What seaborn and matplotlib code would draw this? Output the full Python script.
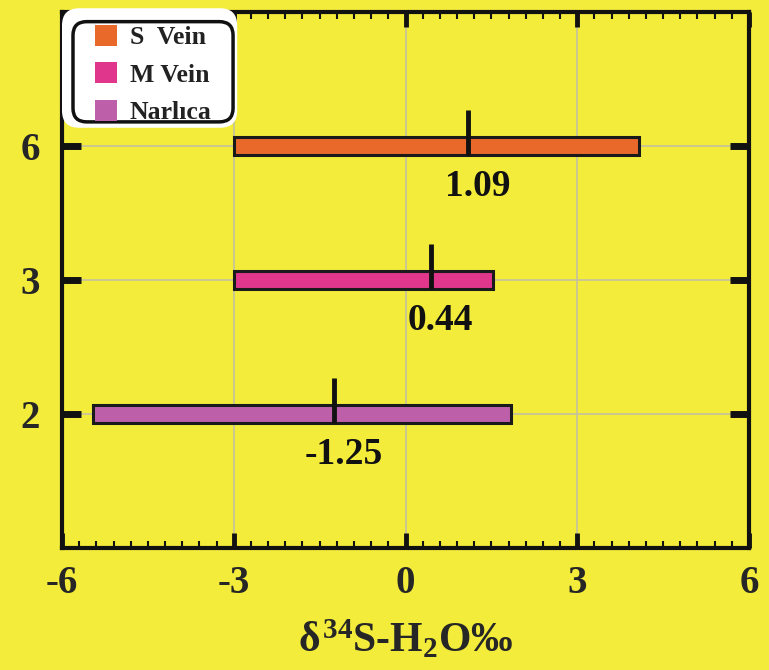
import matplotlib
matplotlib.use('Agg')
import matplotlib.pyplot as plt
import seaborn as sns
import numpy as np
import pandas as pd
from matplotlib.patches import Patch, FancyBboxPatch
from matplotlib.ticker import MultipleLocator

# ---- data ----
groups = ['Narlıca', 'M Vein', 'S Vein']
y_labels = ['2', '3', '6']
range_min = [-5.45, -3.0, -3.0]
range_max = [1.85, 1.52, 4.08]
means = [-1.25, 0.44, 1.09]
mean_labels = ['-1.25', '0.44', '1.09']
colors = ['#BE5FAA', '#E0378C', '#E8692A']
legend_labels = ['S  Vein', 'M Vein', 'Narlıca']
x_ticks = [-6, -3, 0, 3, 6]

df = pd.DataFrame({'group': groups, 'lo': range_min, 'hi': range_max,
                   'mean': means, 'label': mean_labels, 'color': colors})
df['pos'] = np.arange(len(df))

sns.set_theme(style='white')
plt.rcParams['font.family'] = ['Liberation Serif', 'DejaVu Serif']
plt.rcParams['font.weight'] = 'bold'
plt.rcParams['mathtext.fontset'] = 'custom'
plt.rcParams['mathtext.rm'] = 'Liberation Serif:bold'
plt.rcParams['mathtext.it'] = 'Liberation Serif:bold'
plt.rcParams['mathtext.bf'] = 'Liberation Serif:bold'

BG = '#F3EC3B'
fig = plt.figure(figsize=(7.69, 6.70), dpi=100, facecolor=BG)
ax = fig.add_axes([62/769, 1-548/670, 687/769, 536/670])
ax.set_facecolor(BG)

ax.barh(df['pos'], df['hi'] - df['lo'], left=df['lo'], height=0.13,
        color=df['color'], edgecolor='#1a1a1a', linewidth=2.2, zorder=3)
ax.vlines(df['mean'], df['pos'] - 0.065, df['pos'] + 0.27, color='#111111',
          lw=3.5, zorder=4)
for _, r in df.iterrows():
    ax.text(r['mean'] + 0.17, r['pos'] - 0.3, r['label'], ha='center', va='center',
            fontsize=27, fontweight='bold', color='#111111')

ax.set_xlim(-6, 6)
ax.set_ylim(-1, 3)
ax.set_xticks(x_ticks)
ax.set_xticklabels([str(t) for t in x_ticks])
ax.set_yticks(df['pos'])
ax.set_yticklabels(y_labels)
ax.xaxis.set_minor_locator(MultipleLocator(0.3))

ax.grid(True, which='major', color='#C4C0A0', lw=1.2)
ax.set_axisbelow(True)

ax.tick_params(axis='x', which='major', direction='in', length=11, width=3.5,
               top=True, bottom=True, labelsize=28, pad=12, color='#111111')
ax.tick_params(axis='x', which='minor', direction='in', length=5, width=1.5,
               top=True, bottom=True, color='#111111')
ax.tick_params(axis='y', which='major', direction='in', length=14, width=5,
               left=True, right=True, labelsize=28, pad=16, color='#111111')
for s in ax.spines.values():
    s.set_linewidth(3)
    s.set_color('#111111')

ax.set_xlabel(r'$\delta^{34}$S-H$_2$O‰', fontsize=30, fontweight='bold', labelpad=12)

# legend with white rounded outer box and black inner rounded border
asp = 687/536
outer = FancyBboxPatch((0.0, 0.784), 0.255, 0.223,
                       boxstyle='round,pad=0,rounding_size=0.025', mutation_aspect=asp,
                       transform=ax.transAxes, facecolor='white', edgecolor='none',
                       zorder=10, clip_on=False)
inner = FancyBboxPatch((0.016, 0.795), 0.233, 0.187,
                       boxstyle='round,pad=0,rounding_size=0.02', mutation_aspect=asp,
                       transform=ax.transAxes, facecolor='white', edgecolor='#111111',
                       lw=2.5, zorder=11, clip_on=False)
ax.add_patch(outer)
ax.add_patch(inner)
handles = [Patch(facecolor=c, edgecolor='none') for c in colors[::-1]]
leg = ax.legend(handles, legend_labels, loc='upper left',
                bbox_to_anchor=(0.048, 0.976), frameon=False, fontsize=18.5,
                handlelength=0.86, handleheight=0.86, handletextpad=0.5,
                labelspacing=0.52, borderpad=0, borderaxespad=0)
leg.set_zorder(12)
for t in leg.get_texts():
    t.set_fontweight('bold')
    t.set_color('#222222')

fig.savefig('out.png', dpi=100, facecolor=BG)
